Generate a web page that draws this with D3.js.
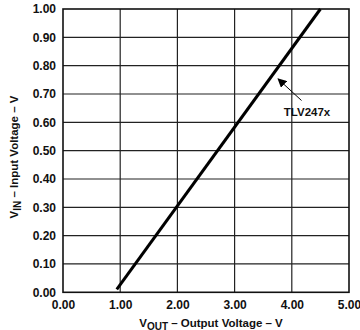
<!DOCTYPE html>
<html><head><meta charset="utf-8">
<script src="https://cdn.jsdelivr.net/npm/d3@7"></script>
<style>body{margin:0;background:#fff}svg{display:block}text{font-family:"Liberation Sans",Arial,sans-serif;font-weight:bold}</style>
</head><body>
<svg id="c" width="360" height="330"></svg>
<script>
const xTicks = [0, 1, 2, 3, 4, 5];
const yTicks = [0, 0.1, 0.2, 0.3, 0.4, 0.5, 0.6, 0.7, 0.8, 0.9, 1.0];
const vOut = [0.94, 4.50];
const vIn = [0.01, 1.00];
const seriesName = "TLV247x";

const svg = d3.select("#c");
const m = {l: 63, r: 349, t: 9, b: 292.3};
const x = d3.scaleLinear().domain([0, 5]).range([m.l, m.r]);
const y = d3.scaleLinear().domain([0, 1]).range([m.b, m.t]);

// grid
svg.append("g").selectAll("line").data(xTicks.slice(1, -1)).join("line")
  .attr("x1", d => x(d)).attr("x2", d => x(d)).attr("y1", m.t).attr("y2", m.b)
  .attr("stroke", "#222").attr("stroke-width", 1.2);
svg.append("g").selectAll("line").data(yTicks.slice(1, -1)).join("line")
  .attr("y1", d => y(d)).attr("y2", d => y(d)).attr("x1", m.l).attr("x2", m.r)
  .attr("stroke", "#222").attr("stroke-width", 1.2);
svg.append("rect").attr("x", m.l).attr("y", m.t).attr("width", m.r - m.l).attr("height", m.b - m.t)
  .attr("fill", "none").attr("stroke", "#111").attr("stroke-width", 1.6);

// axes labels
const xa = d3.axisBottom(x).tickValues(xTicks).tickFormat(d3.format(".2f")).tickSize(0).tickPadding(8);
const gx = svg.append("g").attr("transform", `translate(0,${m.b})`).call(xa);
gx.select(".domain").remove();
gx.selectAll("text").attr("font-size", 12).attr("fill", "#111").attr("font-family", null);
const ya = d3.axisLeft(y).tickValues(yTicks).tickFormat(d3.format(".2f")).tickSize(0).tickPadding(7);
const gy = svg.append("g").attr("transform", `translate(${m.l},0)`).call(ya);
gy.select(".domain").remove();
gy.selectAll("text").attr("font-size", 12).attr("fill", "#111").attr("font-family", null);

// line
const data = vOut.map((v, i) => [v, vIn[i]]);
svg.append("path").datum(data)
  .attr("d", d3.line().x(d => x(d[0])).y(d => y(d[1])))
  .attr("fill", "none").attr("stroke", "#000").attr("stroke-width", 3);

// annotation
svg.append("defs").append("marker").attr("id", "ah").attr("viewBox", "0 0 10 10")
  .attr("refX", 9).attr("refY", 5).attr("markerWidth", 9).attr("markerHeight", 9)
  .attr("orient", "auto").attr("markerUnits", "userSpaceOnUse")
  .append("path").attr("d", "M0,0 L10,5 L0,10 z").attr("fill", "#000");
svg.append("line").attr("x1", x(4.17)).attr("y1", y(0.677)).attr("x2", x(3.76)).attr("y2", y(0.753))
  .attr("stroke", "#000").attr("stroke-width", 1).attr("marker-end", "url(#ah)");
svg.append("text").attr("x", x(3.86)).attr("y", y(0.623)).attr("font-size", 11.5).attr("fill", "#111")
  .text(seriesName);

// axis titles
const xt = svg.append("text").attr("x", 211).attr("y", 326.5).attr("text-anchor", "middle")
  .attr("font-size", 11.5).attr("fill", "#111");
xt.append("tspan").text("V");
xt.append("tspan").attr("dy", 3).attr("font-size", 10).text("OUT");
xt.append("tspan").attr("dy", -3).text(" \u2013 Output Voltage \u2013 V");

const yt = svg.append("text").attr("transform", "translate(18,157) rotate(-90)").attr("text-anchor", "middle")
  .attr("font-size", 11.5).attr("fill", "#111");
yt.append("tspan").text("V");
yt.append("tspan").attr("dy", 3).attr("font-size", 10).text("IN");
yt.append("tspan").attr("dy", -3).text(" \u2013 Input Voltage \u2013 V");
</script>
</body></html>
